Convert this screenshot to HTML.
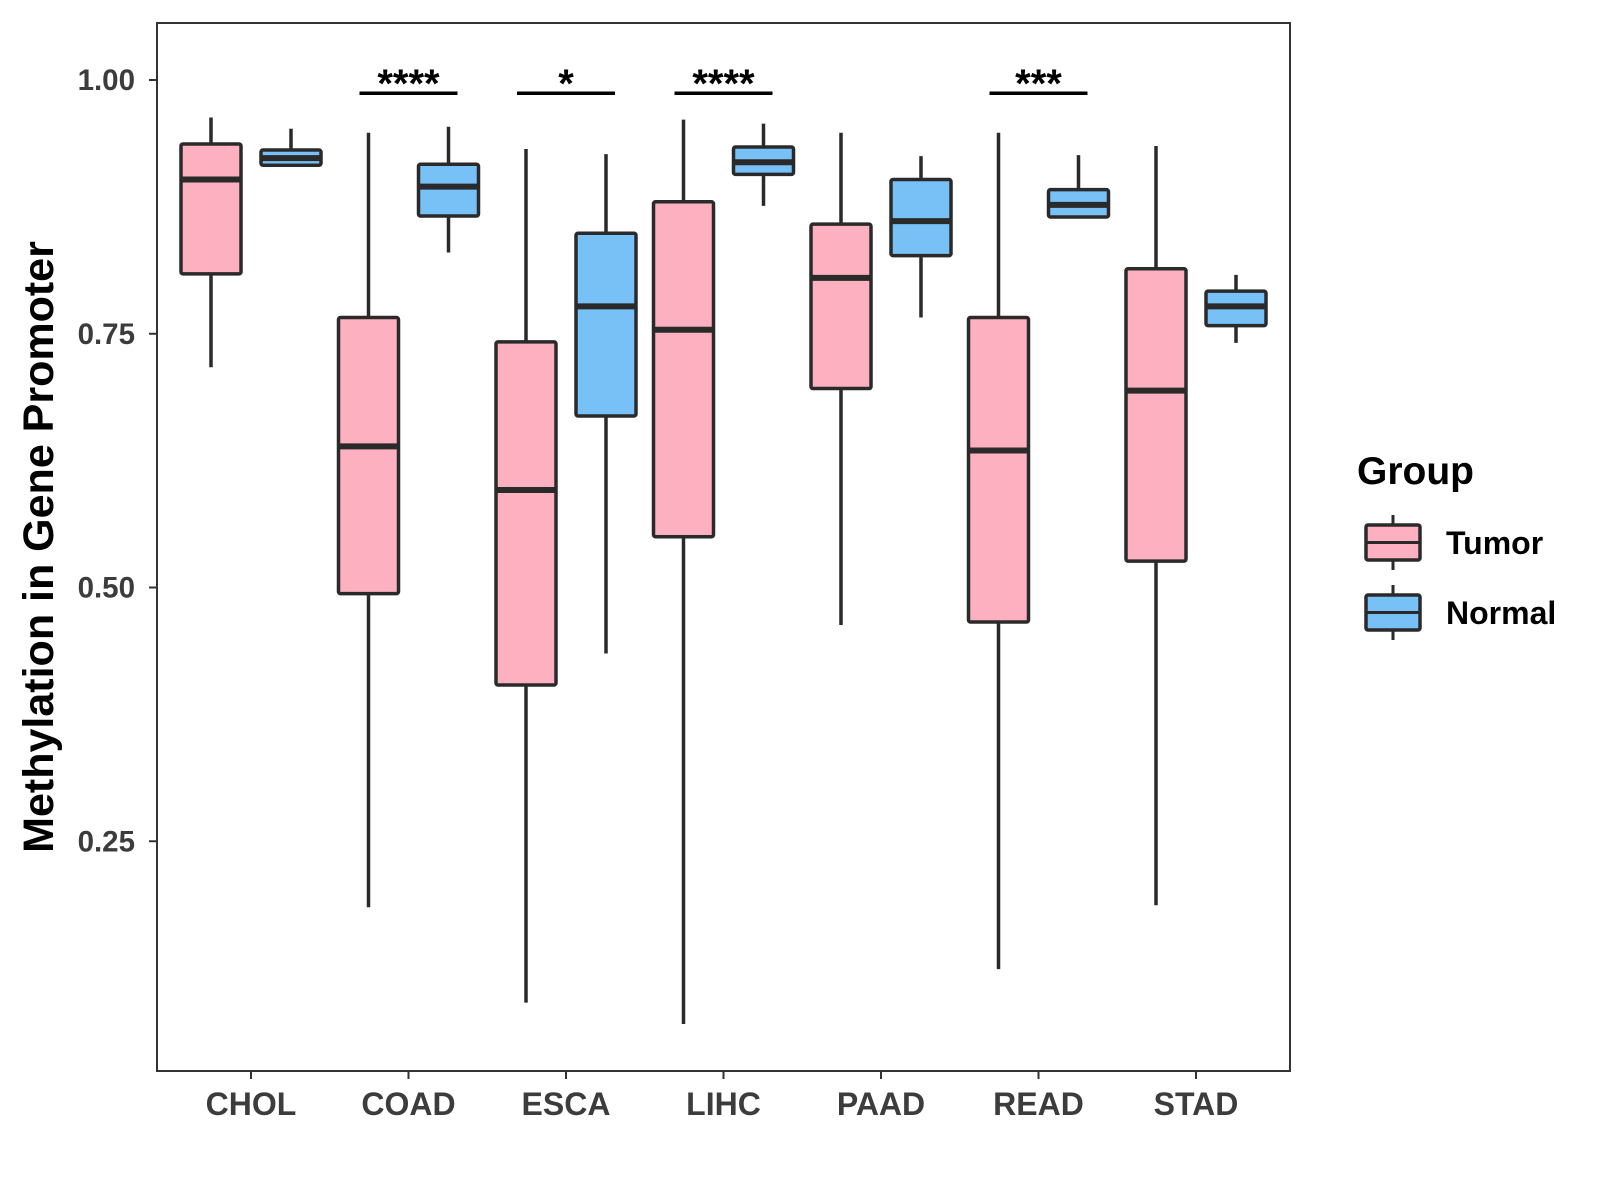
<!DOCTYPE html>
<html><head><meta charset="utf-8"><style>body{margin:0;background:#fff}svg{display:block;font-family:"Liberation Sans",Arial,sans-serif;font-weight:bold}</style></head>
<body>
<svg id="chart" width="1600" height="1200" xmlns="http://www.w3.org/2000/svg"></svg>
<script>
const categories=["CHOL","COAD","ESCA","LIHC","PAAD","READ","STAD"];
const tumorStats=[[0.717,0.809,0.902,0.937,0.963],[0.185,0.494,0.639,0.766,0.948],[0.091,0.404,0.596,0.742,0.932],[0.070,0.550,0.754,0.880,0.961],[0.463,0.696,0.805,0.858,0.948],[0.124,0.466,0.635,0.766,0.948],[0.187,0.526,0.694,0.814,0.935]];
const normalStats=[[0.916,0.916,0.923,0.931,0.952],[0.830,0.866,0.895,0.917,0.954],[0.435,0.669,0.777,0.849,0.927],[0.876,0.907,0.919,0.934,0.957],[0.766,0.827,0.861,0.902,0.925],[0.865,0.865,0.877,0.892,0.926],[0.741,0.758,0.777,0.792,0.808]];
const sigLabels=["","****","*","****","","***",""];
const yTicks=[0.25,0.5,0.75,1.0];
const yTickLabels=["0.25","0.50","0.75","1.00"];
const sigLevel=0.987;

const svg=document.getElementById('chart');
const NS="http://www.w3.org/2000/svg";
const L=157,R=1290,T=23,B=1071;
const x0=251,step=157.5;
function xs(i){return x0+i*step;}
function ys(v){return 80+(1-v)*1015;}
function mk(tag,attrs,name,text){const e=document.createElementNS(NS,tag);for(const k in attrs)e.setAttribute(k,attrs[k]);


if(text!==undefined)e.textContent=text;svg.appendChild(e);return e;}
mk('rect',{x:L,y:T,width:R-L,height:B-T,fill:'#fff',stroke:'#333','stroke-width':2},'plot-panel');
yTicks.forEach((t,i)=>{const y=ys(t);
mk('line',{x1:L-8,x2:L,y1:y,y2:y,stroke:'#333','stroke-width':2},'y-tick');
mk('text',{x:L-22,y:y+10,'text-anchor':'end','font-size':29.5,fill:'#3c3c3c'},'y-tick-label',yTickLabels[i]);});
categories.forEach((c,i)=>{const x=xs(i);
mk('line',{x1:x,x2:x,y1:B,y2:B+8,stroke:'#333','stroke-width':2},'x-tick');
mk('text',{x:x,y:B+44,'text-anchor':'middle','font-size':32,fill:'#3c3c3c'},'x-tick-label',c);});
function box(s,cx,fill,name){const w=60;
mk('line',{x1:cx,x2:cx,y1:ys(s[0]),y2:ys(s[4]),stroke:'#2a2a2a','stroke-width':3.5},name+'-whisker');
mk('rect',{x:cx-w/2,y:ys(s[3]),width:w,height:Math.max(ys(s[1])-ys(s[3]),1),fill:fill,stroke:'#2a2a2a','stroke-width':3.5,rx:2},name+'-box');
mk('line',{x1:cx-w/2,x2:cx+w/2,y1:ys(s[2]),y2:ys(s[2]),stroke:'#2a2a2a','stroke-width':6},name+'-median');}
categories.forEach((c,i)=>{
box(tumorStats[i],xs(i)-40,'#fdb0c0','tumor-'+c.toLowerCase());
box(normalStats[i],xs(i)+40,'#78c1f7','normal-'+c.toLowerCase());
if(sigLabels[i]){const y=ys(sigLevel);
mk('line',{x1:xs(i)-49,x2:xs(i)+49,y1:y,y2:y,stroke:'#000','stroke-width':3.5},'significance-bracket');
mk('text',{x:xs(i),y:y+4,'text-anchor':'middle','font-size':40,fill:'#000'},'significance-label',sigLabels[i]);}});
mk('text',{x:53,y:(T+B)/2,'text-anchor':'middle','font-size':43,fill:'#000',transform:'rotate(-90 53 '+(T+B)/2+')'},'y-axis-title','Methylation in Gene Promoter');
mk('text',{x:1357,y:484,'font-size':39,fill:'#000'},'legend-title','Group');
[['Tumor','#fdb0c0',525],['Normal','#78c1f7',595]].forEach(([lab,f,y])=>{
mk('line',{x1:1393,x2:1393,y1:y-10,y2:y+45,stroke:'#2a2a2a','stroke-width':3},'legend-key-whisker');
mk('rect',{x:1366,y:y,width:54,height:35,fill:f,stroke:'#2a2a2a','stroke-width':3.5,rx:2},'legend-key-'+lab.toLowerCase());
mk('line',{x1:1366,x2:1420,y1:y+17.5,y2:y+17.5,stroke:'#2a2a2a','stroke-width':3},'legend-key-median');
mk('text',{x:1446,y:y+29,'font-size':32,fill:'#000'},'legend-label-'+lab.toLowerCase(),lab);});
</script>
</body></html>
